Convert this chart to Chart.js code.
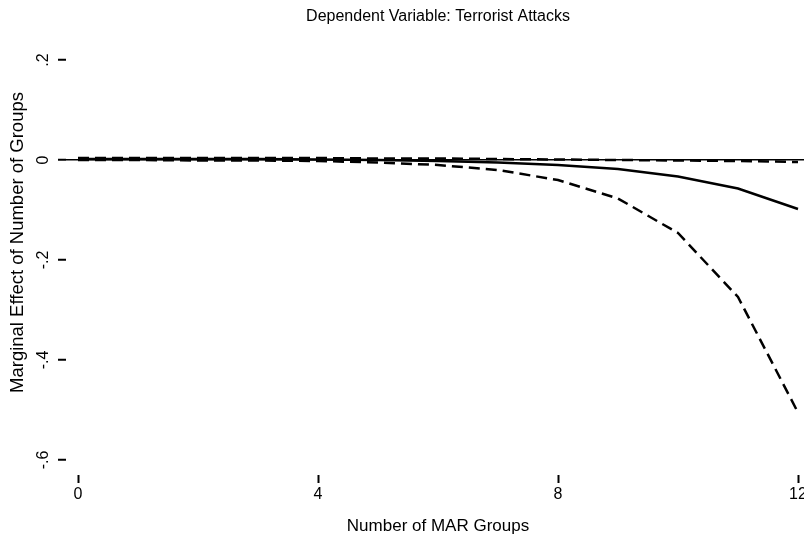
<!DOCTYPE html>
<html>
<head>
<meta charset="utf-8">
<script src="https://cdn.jsdelivr.net/npm/chart.js@4.4.0/dist/chart.umd.min.js"></script>
<style>
  html, body { margin: 0; padding: 0; background: #fff; overflow: hidden; }
</style>
</head>
<body>
<canvas id="effectChart" width="820" height="535"></canvas>
<script>
// number of MAR groups on the x axis
var groups = [0, 1, 2, 3, 4, 5, 6, 7, 8, 9, 10, 11, 12];
// marginal effect and 95% bounds
var estimate   = [0.002, 0.002, 0.002, 0.002, 0.001, 0.000, -0.002, -0.005, -0.010, -0.018, -0.033, -0.057, -0.098];
var upperBound = [0.004, 0.004, 0.004, 0.004, 0.004, 0.003, 0.003, 0.002, 0.001, 0.000, -0.001, -0.002, -0.004];
var lowerBound = [0.000, 0.000, -0.001, -0.001, -0.002, -0.005, -0.010, -0.020, -0.040, -0.077, -0.146, -0.274, -0.505];

var xTicks = [0, 4, 8, 12];
var xTickLabels = ['0', '4', '8', '12'];
var yTicks = [0.2, 0, -0.2, -0.4, -0.6];
var yTickLabels = ['.2', '0', '-.2', '-.4', '-.6'];
var mainTitle = 'Dependent Variable: Terrorist Attacks';

var FONT = '"Liberation Sans", Arial, Helvetica, sans-serif';

function points(ys) {
  return groups.map(function (g, i) { return { x: g, y: ys[i] }; });
}

// turned y tick labels and the title above the plot region
var extraText = {
  id: 'extraText',
  afterDraw: function (chart) {
    var ctx = chart.ctx;
    var yScale = chart.scales.y;
    var area = chart.chartArea;
    ctx.save();
    ctx.fillStyle = '#000';
    ctx.textAlign = 'center';
    ctx.textBaseline = 'middle';
    ctx.font = '16px ' + FONT;
    yTicks.forEach(function (v, i) {
      ctx.save();
      ctx.translate(44, yScale.getPixelForValue(v));
      ctx.rotate(-Math.PI / 2);
      ctx.fillText(yTickLabels[i], 0, 0);
      ctx.restore();
    });
    ctx.font = '16px ' + FONT;
    ctx.fillText(mainTitle, (area.left + area.right) / 2, 17);
    ctx.restore();
  }
};

var ctx = document.getElementById('effectChart').getContext('2d');
var effectChart = new Chart(ctx, {
  type: 'line',
  data: {
    datasets: [{
      label: 'Estimate',
      data: points(estimate),
      borderColor: '#000',
      borderWidth: 2.5,
      pointRadius: 0,
      tension: 0
    }, {
      label: 'Upper bound',
      data: points(upperBound),
      borderColor: '#000',
      borderWidth: 2.5,
      borderDash: [11, 6],
      pointRadius: 0,
      tension: 0
    }, {
      label: 'Lower bound',
      data: points(lowerBound),
      borderColor: '#000',
      borderWidth: 2.5,
      borderDash: [11, 6],
      pointRadius: 0,
      tension: 0
    }]
  },
  options: {
    responsive: false,
    animation: false,
    layout: { padding: { left: 0, right: 10, top: 10, bottom: 0 } },
    plugins: {
      legend: { display: false },
      tooltip: { enabled: false },
      title: { display: false }
    },
    scales: {
      x: {
        type: 'linear',
        min: -0.2,
        max: 12.2,
        afterFit: function (scale) { scale.height = 60; },
        afterBuildTicks: function (scale) {
          scale.ticks = xTicks.map(function (v) { return { value: v }; });
        },
        border: { display: false },
        grid: {
          drawOnChartArea: false,
          tickLength: 8,
          tickWidth: 2,
          tickColor: '#000'
        },
        ticks: {
          color: '#000',
          padding: 2,
          maxRotation: 0,
          font: { family: FONT, size: 16 },
          callback: function (value, index) { return xTickLabels[index]; }
        },
        title: {
          display: true,
          text: 'Number of MAR Groups',
          color: '#000',
          font: { family: FONT, size: 17 },
          padding: { top: 0, bottom: -2 }
        }
      },
      y: {
        min: -0.63,
        max: 0.30,
        afterFit: function (scale) { scale.width = 66; },
        afterBuildTicks: function (scale) {
          scale.ticks = yTicks.map(function (v) { return { value: v }; });
        },
        border: { display: false },
        grid: {
          drawOnChartArea: true,
          color: function (c) { return c.tick && c.tick.value === 0 ? '#000' : 'rgba(0,0,0,0)'; },
          lineWidth: 1.5,
          tickLength: 8,
          tickWidth: 2,
          tickColor: '#000'
        },
        ticks: { display: false },
        title: {
          display: true,
          text: 'Marginal Effect of Number of Groups',
          color: '#000',
          font: { family: FONT, size: 18.5 },
          padding: { top: 7, bottom: 0 }
        }
      }
    }
  },
  plugins: [extraText]
});
</script>
</body>
</html>
